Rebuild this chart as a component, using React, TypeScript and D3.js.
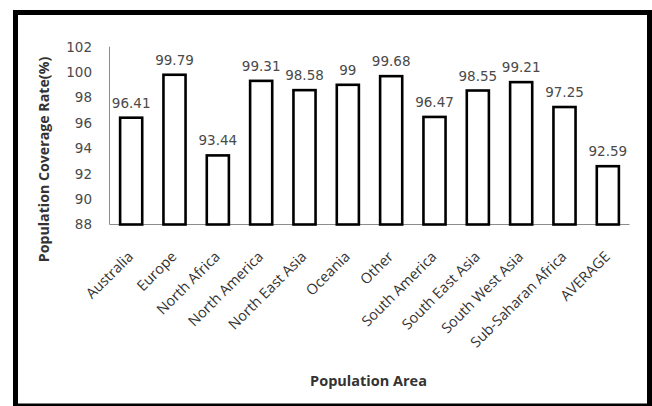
import React from "react";
import * as d3 from "d3";

const categories = [
  "Australia",
  "Europe",
  "North Africa",
  "North America",
  "North East Asia",
  "Oceania",
  "Other",
  "South America",
  "South East Asia",
  "South West Asia",
  "Sub-Saharan Africa",
  "AVERAGE",
];
const values = [96.41, 99.79, 93.44, 99.31, 98.58, 99, 99.68, 96.47, 98.55, 99.21, 97.25, 92.59];
const valueLabels = ["96.41", "99.79", "93.44", "99.31", "98.58", "99", "99.68", "96.47", "98.55", "99.21", "97.25", "92.59"];
const yTicks = [88, 90, 92, 94, 96, 98, 100, 102];
const yTitle = "Population Coverage Rate(%)";
const xTitle = "Population Area";

const W = 652;
const H = 406;
const plotLeft = 109.5;
const plotRight = 629.5;
const plotTop = 46.7;
const plotBottom = 224.5;

export default function App() {
  const x = d3
    .scaleBand<string>()
    .domain(categories)
    .range([plotLeft, plotRight])
    .paddingInner(0.49)
    .paddingOuter(0.245);
  const y = d3.scaleLinear().domain([88, 102]).range([plotBottom, plotTop]);
  const numFont = "'DejaVu Sans', Verdana, sans-serif";
  const txtFont = "'Open Sans', 'Noto Sans', sans-serif";
  const labelColor = "#4a4a4a";

  return (
    <svg
      width={W}
      height={H}
      style={{ position: "absolute", left: 0, top: 0, background: "#fff" }}
    >
      <rect x={0} y={0} width={W} height={H} fill="#fff" />
      {/* frame */}
      <line x1={13} x2={W} y1={12.5} y2={12.5} stroke="#000" strokeWidth={5} />
      <line x1={15.5} x2={15.5} y1={10} y2={H} stroke="#000" strokeWidth={5} />
      <line x1={649.5} x2={649.5} y1={10} y2={H} stroke="#000" strokeWidth={5} />
      <line x1={13} x2={W} y1={405} y2={405} stroke="#000" strokeWidth={3} />

      {/* axes */}
      <line x1={plotLeft} x2={plotLeft} y1={plotTop} y2={plotBottom} stroke="#8c8c8c" strokeWidth={1} />
      <line x1={plotLeft} x2={plotRight} y1={plotBottom} y2={plotBottom} stroke="#8c8c8c" strokeWidth={1} />

      {yTicks.map((t) => (
        <text
          key={t}
          x={92}
          y={y(t)}
          dy="0.36em"
          textAnchor="end"
          fontFamily={numFont}
          fontSize={13.5}
          fill={labelColor}
        >
          {t}
        </text>
      ))}

      {categories.map((c, i) => {
        const bx = x(c)!;
        const by = y(values[i]);
        return (
          <g key={c}>
            <rect
              x={bx}
              y={by}
              width={x.bandwidth()}
              height={plotBottom - by}
              fill="#fff"
              stroke="#000"
              strokeWidth={2.6}
            />
            <text
              x={bx + x.bandwidth() / 2}
              y={by - 10}
              textAnchor="middle"
              fontFamily={numFont}
              fontSize={13.5}
              fill={labelColor}
            >
              {valueLabels[i]}
            </text>
            <text
              transform={`translate(${bx + x.bandwidth() / 2 + 3},${plotBottom + 33}) rotate(-45)`}
              textAnchor="end"
              fontFamily={txtFont}
              fontSize={14.5}
              fill="#333"
            >
              {c}
            </text>
          </g>
        );
      })}

      <text
        transform={`translate(49,${159.5}) rotate(-90)`}
        textAnchor="middle"
        fontFamily={txtFont}
        fontWeight="bold"
        fontSize={14.2}
        fill="#333"
      >
        {yTitle}
      </text>
      <text
        x={368.5}
        y={385.5}
        textAnchor="middle"
        fontFamily={txtFont}
        fontWeight="bold"
        fontSize={14.5}
        fill="#333"
      >
        {xTitle}
      </text>
    </svg>
  );
}
